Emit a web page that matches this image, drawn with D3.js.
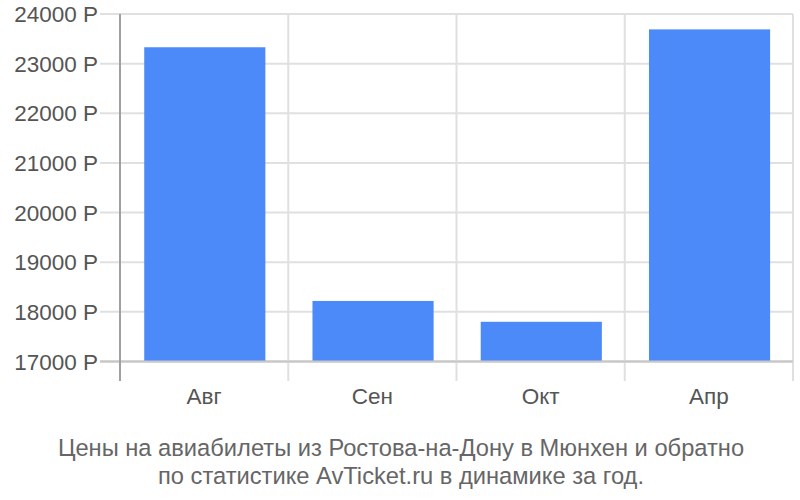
<!DOCTYPE html>
<html><head><meta charset="utf-8">
<script src="https://cdn.jsdelivr.net/npm/d3@7"></script>
<style>body{margin:0;background:#fff}svg{display:block;font-family:"Liberation Sans",Arial,sans-serif}</style>
</head><body><svg id="c" width="800" height="500"></svg>
<script>
const categories = ["Авг","Сен","Окт","Апр"];
const values = [23330, 18220, 17800, 23690];
const yTicks = [17000,18000,19000,20000,21000,22000,23000,24000];
const titleLines = ["Цены на авиабилеты из Ростова-на-Дону в Мюнхен и обратно","по статистике AvTicket.ru в динамике за год."];

const svg = d3.select("#c");
const L = 120, R = 793, T = 14, B = 361.5, axisBottom = 381;
const x = d3.scaleBand().domain(categories).range([L, R]).padding(0);
const y = d3.scaleLinear().domain([17000, 24000]).range([B, T]);

svg.append("g").selectAll("line").data(yTicks).join("line")
  .attr("x1", L - 20).attr("x2", R)
  .attr("y1", d => y(d)).attr("y2", d => y(d))
  .attr("stroke", d => d === 17000 ? "#c8c8c8" : "#e0e0e0").attr("stroke-width", 2);

const vx = categories.map(c => x(c)).slice(1).concat([R]);
svg.append("g").selectAll("line").data(vx).join("line")
  .attr("x1", d => d).attr("x2", d => d).attr("y1", T).attr("y2", axisBottom)
  .attr("stroke", "#e0e0e0").attr("stroke-width", 2);

const bw = x.bandwidth();
svg.append("g").selectAll("rect").data(values).join("rect")
  .attr("x", (d, i) => x(categories[i]) + bw * 0.144)
  .attr("width", bw * 0.72)
  .attr("y", d => y(d)).attr("height", d => B - y(d))
  .attr("fill", "#4c8af9");

svg.append("line").attr("x1", L - 20).attr("x2", R).attr("y1", B).attr("y2", B)
  .attr("stroke", "#c8c8c8").attr("stroke-width", 2);

svg.append("line").attr("x1", L).attr("x2", L).attr("y1", T).attr("y2", axisBottom)
  .attr("stroke", "#a0a0a0").attr("stroke-width", 2);

svg.append("g").selectAll("text").data(yTicks).join("text")
  .attr("x", 98).attr("y", d => y(d)).attr("dy", "0.36em")
  .attr("text-anchor", "end").attr("font-size", 22.5).attr("fill", "#555")
  .text(d => d + " Р");

svg.append("g").selectAll("text").data(categories).join("text")
  .attr("x", d => x(d) + bw / 2).attr("y", 404)
  .attr("text-anchor", "middle").attr("font-size", 22.5).attr("fill", "#555")
  .text(d => d);

svg.append("g").selectAll("text").data(titleLines).join("text")
  .attr("x", 401).attr("y", (d, i) => 456 + i * 28)
  .attr("text-anchor", "middle").attr("font-size", 23.7).attr("fill", "#666")
  .text(d => d);
</script></body></html>
